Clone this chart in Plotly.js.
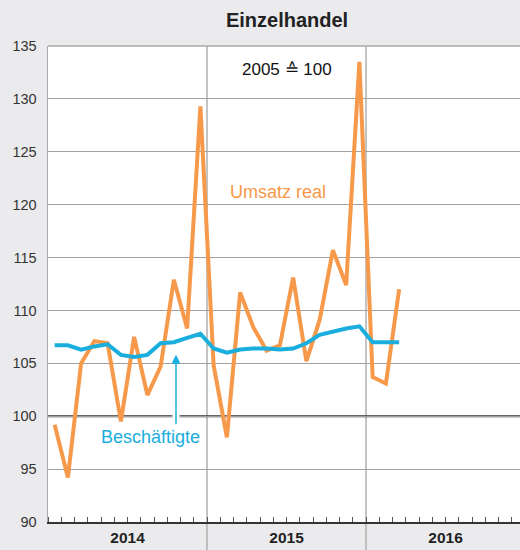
<!DOCTYPE html>
<html><head><meta charset="utf-8">
<script src="https://cdn.plot.ly/plotly-3.0.1.min.js"></script>
<style>html,body{margin:0;padding:0;background:#ebebed}</style>
</head><body><div id="chart" style="width:520px;height:550px"></div>
<script>
// Months Jan 2014 .. Mar 2016
const months = ["2014-01","2014-02","2014-03","2014-04","2014-05","2014-06","2014-07","2014-08","2014-09","2014-10","2014-11","2014-12",
"2015-01","2015-02","2015-03","2015-04","2015-05","2015-06","2015-07","2015-08","2015-09","2015-10","2015-11","2015-12",
"2016-01","2016-02","2016-03"];
const umsatzReal = [99.2,94.2,105.0,107.1,106.9,99.5,107.5,102.0,104.7,112.9,108.3,129.3,
104.8,98.0,111.7,108.4,106.2,106.7,113.1,105.2,109.1,115.7,112.4,133.5,
103.7,103.1,112.0];
const beschaeftigte = [106.7,106.7,106.3,106.6,106.8,105.8,105.6,105.8,106.9,107.0,107.4,107.8,
106.4,106.0,106.3,106.4,106.4,106.3,106.4,106.9,107.7,108.0,108.3,108.5,
107.0,107.0,107.0];
const yearLabels = ["2014","2015","2016"];

const xs = months.map((m,i)=> i + 0.5);
const yearCenters = yearLabels.map((y,i)=> i*12 + 6);
const yearBounds = [12, 24];

const FONT = "Liberation Sans, Arial, Helvetica, sans-serif";
const ORANGE = "#f7994a", BLUE = "#1aaede";

const traces = [
  {x: xs, y: umsatzReal, type:"scatter", mode:"lines", line:{color:ORANGE, width:4}, hoverinfo:"skip"},
  {x: xs, y: beschaeftigte, type:"scatter", mode:"lines", line:{color:BLUE, width:4}, hoverinfo:"skip"}
];

const shapes = yearBounds.map(b=>({type:"line", xref:"x", yref:"paper", x0:b, x1:b, y0:-0.0588, y1:1, line:{color:"#b0b0b0", width:1.5}, layer:"below"}));
shapes.push({type:"line", xref:"paper", yref:"y", x0:0, x1:1, y0:100, y1:100, line:{color:"#333", width:2}, layer:"below"});
shapes.push({type:"line", xref:"paper", yref:"paper", x0:0, x1:1, y0:1, y1:1, line:{color:"#aaa", width:1.5}, layer:"above"});

const layout = {
  width:520, height:550,
  margin:{l:48, r:0, t:46, b:28},
  paper_bgcolor:"#ebebed", plot_bgcolor:"#ffffff",
  showlegend:false,
  font:{family:FONT, color:"#222"},
  title:{text:"Einzelhandel", font:{family:FONT, size:20, weight:700, color:"#222"}, xref:"container", x:0.552, xanchor:"center", yref:"container", y:0.963, yanchor:"middle"},
  xaxis:{range:[0,35.62], tickmode:"array", tickvals:yearCenters, ticktext:yearLabels, ticks:"",
    tickfont:{family:FONT, size:15.5, weight:700, color:"#222"},
    showgrid:false, zeroline:false, showline:true, linecolor:"#333", linewidth:2,
    minor:{tick0:0, dtick:1, ticks:"inside", ticklen:5, tickwidth:1, tickcolor:"#555", showgrid:false},
    fixedrange:true},
  yaxis:{range:[90,135], tickmode:"linear", tick0:90, dtick:5, ticks:"", ticklabelstandoff:7,
    tickfont:{family:FONT, size:14.5, color:"#333"},
    showgrid:true, gridcolor:"#a0a0a0", gridwidth:1, zeroline:false,
    showline:true, linecolor:"#aaa", linewidth:1.5, fixedrange:true},
  shapes: shapes,
  annotations:[
    {x:18.04, y:132.8, xref:"x", yref:"y", text:"2005 ≙ 100", showarrow:false, font:{family:FONT, size:17, color:"#111"}},
    {x:17.36, y:121.2, xref:"x", yref:"y", text:"Umsatz real", showarrow:false, font:{family:FONT, size:18, color:ORANGE}},
    {x:9.66, y:101.0, xref:"x", yref:"y", ax:9.66, ay:99.3, axref:"x", ayref:"y", text:"", showarrow:true, arrowhead:0, arrowwidth:7, arrowcolor:"#ffffff"},
    {x:9.66, y:105.8, xref:"x", yref:"y", ax:9.66, ay:99.1, axref:"x", ayref:"y", text:"", showarrow:true, arrowhead:2, arrowsize:1.2, arrowwidth:1.5, arrowcolor:BLUE},
    {x:7.77, y:98.0, xref:"x", yref:"y", text:"Beschäftigte", showarrow:false, font:{family:FONT, size:18, color:BLUE}}
  ]
};

Plotly.newPlot("chart", traces, layout, {displayModeBar:false, staticPlot:true});
</script></body></html>
